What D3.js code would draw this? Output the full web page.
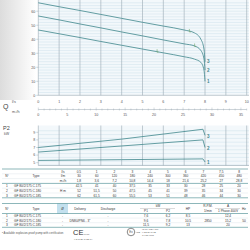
<!DOCTYPE html>
<html>
<head>
<meta charset="utf-8">
<script src="https://cdn.jsdelivr.net/npm/d3@7"></script>
<style>
body { margin: 0; background: #fff; }
svg { display: block; font-family: "Liberation Sans", Arial, sans-serif; }
</style>
</head>
<body>
<svg id="chart" width="250" height="250"></svg>
<script>
// curves (Q in l/s)
const curveQ = [0, 1, 2, 3, 4, 5, 6, 7, 7.5, 7.8, 7.95, 8.0];
const headCurve1 = [46.6, 43.9, 41.2, 38.4, 35.7, 33, 30.3, 27.5, 25.8, 23.5, 18, 10];
const headCurve2 = [56.6, 53.8, 50.9, 48.1, 45.2, 42.4, 39.5, 36.7, 35.2, 32, 26, 18];
const headCurve3 = [66, 63.2, 60.5, 57.7, 54.9, 52.1, 49.4, 46.6, 44.5, 40, 33, 24];
const markQ = [5.7, 7.5, 7.25];

const powerQ = [0, 4, 7.9, 8.0];
const powerCurve1 = [5.3, 5.4, 5.5, 5.1];
const powerCurve2 = [6.4, 7.2, 8.0, 7.0];
const powerCurve3 = [7.0, 8.1, 9.4, 8.6];

const headTicks = [0, 10, 20, 30, 40, 50, 60];
const lsTicks = [0, 1, 2, 3, 4, 5, 6, 7, 8, 9, 10];
const m3hTicks = [0, 5, 10, 15, 20, 25, 30, 35];
const powerTicks = [5, 6, 7, 8, 9];

// performance table
const flowLs = ["0,5", "1", "2", "3", "4", "5", "6", "7", "7,5", "8"];
const flowLm = ["30", "60", "120", "180", "240", "300", "360", "420", "450", "480"];
const flowM3h = ["1,8", "3,6", "7,2", "10,8", "14,4", "18", "21,6", "25,2", "27", "28,8"];
const models = ["GF 80/2/175 C.175", "GF 80/2/175 C.180", "GF 80/2/175 C.185"];
const headRow1 = ["42,5", "41", "40", "37,5", "35", "33", "30", "28", "25", "20"];
const headRow2 = ["52", "51,5", "50", "47,5", "45", "41", "39", "35", "34", "30"];
const headRow3 = ["62", "61,5", "60", "55,5", "53", "51", "48", "46", "44", "30"];

// motor table
const p1 = ["7,6", "9,6", "11,5"];
const p2 = ["6,2", "7,8", "9,2"];
const hp = ["8,5", "10,5", "13"];
const amps = ["12,4", "15,2", "20"];

const teal = "#3f868c", grid = "#9aa9b3", minor = "#cde1eb", txt = "#555";

let svg = d3.select("#chart");

let defs = svg.append("defs");
let grad = defs.append("linearGradient").attr("id", "side");
grad.append("stop").attr("offset", "0%").attr("stop-color", "#dcdcdc");
grad.append("stop").attr("offset", "100%").attr("stop-color", "#ffffff");
svg.append("rect").attr("x", 0).attr("y", 0).attr("width", 36).attr("height", 100)
    .attr("fill", "url(#side)");

let x = d3.scaleLinear().domain([0, 10]).range([38.3, 246.7]),
    xm3 = d3.scaleLinear().domain([0, 36]).range([38.3, 246.7]),
    y = d3.scaleLinear().domain([0, 68]).range([95.3, 0]),
    yp = d3.scaleLinear().domain([5, 9]).range([162.7, 132.3]);

let right = 249;

// ---------- head chart
let hg = svg.append("g");
hg.append("rect").attr("x", x(0)).attr("y", 0).attr("width", right - x(0)).attr("height", y(0))
    .attr("fill", "#f3f8fb");
hg.selectAll("line.hm").data(d3.range(2, 68, 2)).enter().append("line")
    .attr("x1", x(0)).attr("x2", right)
    .attr("y1", d => y(d)).attr("y2", d => y(d))
    .attr("stroke", minor).attr("stroke-width", 0.5);
hg.selectAll("line.v").data(lsTicks).enter().append("line")
    .attr("x1", d => x(d)).attr("x2", d => x(d))
    .attr("y1", 0).attr("y2", y(0))
    .attr("stroke", grid).attr("stroke-width", 0.6);
hg.append("line").attr("x1", x(0)).attr("x2", right).attr("y1", y(0)).attr("y2", y(0))
    .attr("stroke", grid).attr("stroke-width", 0.6);

hg.selectAll("line.yt").data(headTicks).enter().append("line")
    .attr("x1", x(0) - 2).attr("x2", x(0))
    .attr("y1", d => y(d)).attr("y2", d => y(d))
    .attr("stroke", grid).attr("stroke-width", 0.5);
hg.selectAll("text.yt").data(headTicks).enter().append("text")
    .attr("x", x(0) - 3).attr("y", d => y(d) + 1.3)
    .attr("text-anchor", "end").attr("font-size", 3.6).attr("fill", txt)
    .text(d => d);

let hline = d3.line().curve(d3.curveMonotoneX)
    .x((d, i) => x(curveQ[i])).y(d => y(d));
let heads = [headCurve1, headCurve2, headCurve3];
hg.selectAll("path.c").data(heads).enter().append("path")
    .attr("d", hline).attr("fill", "none").attr("stroke", teal).attr("stroke-width", 0.8);

// best efficiency ticks
function headAt(c, q) {
    let i = d3.bisectRight(curveQ, q) - 1;
    let t = (q - curveQ[i]) / (curveQ[i + 1] - curveQ[i]);
    return c[i] + t * (c[i + 1] - c[i]);
}
hg.selectAll("path.mk").data(heads).enter().append("path")
    .attr("d", (c, i) => {
        let px = x(markQ[i]), py = y(headAt(c, markQ[i]));
        return "M" + px + "," + (py - 2.5) + "V" + (py + 0.5) + "H" + (px + 1.5);
    })
    .attr("fill", "none").attr("stroke", "#6fa56a").attr("stroke-width", 0.6);

hg.selectAll("text.cl").data(heads).enter().append("text")
    .attr("x", 207).attr("y", d => y(d[d.length - 1]) + 1.5)
    .attr("font-size", 4.5).attr("font-weight", "bold").attr("fill", teal)
    .text((d, i) => i + 1);

// ---------- flow axes
svg.selectAll("text.ls").data(lsTicks).enter().append("text")
    .attr("x", d => x(d)).attr("y", 102.5).attr("text-anchor", "middle")
    .attr("font-size", 3.6).attr("fill", txt).text(d => d);
svg.append("text").attr("x", 12).attr("y", 102.5).attr("font-size", 3.8).attr("fill", txt).text("l/s");
svg.append("text").attr("x", 3).attr("y", 108.5).attr("font-size", 7).attr("fill", "#444").text("Q");
svg.append("text").attr("x", 12).attr("y", 113).attr("font-size", 3.8).attr("fill", txt).text("m³/h");

let m3g = svg.append("g");
m3g.append("line").attr("x1", xm3(0)).attr("x2", xm3(36)).attr("y1", 109.5).attr("y2", 109.5)
    .attr("stroke", grid).attr("stroke-width", 0.5);
m3g.selectAll("line.mt").data(d3.range(0, 37, 1)).enter().append("line")
    .attr("x1", d => xm3(d)).attr("x2", d => xm3(d))
    .attr("y1", d => d % 5 == 0 ? 107.5 : 108.5).attr("y2", 110.5)
    .attr("stroke", grid).attr("stroke-width", 0.4);
m3g.selectAll("text").data(m3hTicks).enter().append("text")
    .attr("x", d => xm3(d)).attr("y", 115.5).attr("text-anchor", "middle")
    .attr("font-size", 3.6).attr("fill", txt).text(d => d);

// ---------- power chart
let pTop = 125.5, pBot = 165.5;
let pg = svg.append("g");
svg.append("text").attr("x", 3).attr("y", 129.5).attr("font-size", 5.5).attr("fill", "#444").text("P2");
svg.append("text").attr("x", 4).attr("y", 135).attr("font-size", 3.6).attr("fill", txt).text("kW");
pg.append("rect").attr("x", x(0)).attr("y", pTop).attr("width", right - x(0)).attr("height", pBot - pTop)
    .attr("fill", "#f3f8fb");
pg.selectAll("line.hm").data(d3.range(4.7, 9.7, 0.5)).enter().append("line")
    .attr("x1", x(0)).attr("x2", right)
    .attr("y1", d => yp(d)).attr("y2", d => yp(d))
    .attr("stroke", minor).attr("stroke-width", 0.5);
pg.selectAll("line.v").data(lsTicks).enter().append("line")
    .attr("x1", d => x(d)).attr("x2", d => x(d))
    .attr("y1", pTop).attr("y2", pBot)
    .attr("stroke", grid).attr("stroke-width", 0.6);
pg.append("line").attr("x1", x(0)).attr("x2", right).attr("y1", pBot).attr("y2", pBot)
    .attr("stroke", grid).attr("stroke-width", 0.6);
pg.selectAll("line.yt").data(powerTicks).enter().append("line")
    .attr("x1", x(0) - 2).attr("x2", x(0))
    .attr("y1", d => yp(d)).attr("y2", d => yp(d))
    .attr("stroke", grid).attr("stroke-width", 0.5);
pg.selectAll("text.yt").data(powerTicks).enter().append("text")
    .attr("x", x(0) - 3).attr("y", d => yp(d) + 1.3)
    .attr("text-anchor", "end").attr("font-size", 3.6).attr("fill", txt).text(d => d);

let pline = d3.line().x((d, i) => x(powerQ[i])).y(d => yp(d));
let powers = [powerCurve1, powerCurve2, powerCurve3];
pg.selectAll("path.c").data(powers).enter().append("path")
    .attr("d", pline).attr("fill", "none").attr("stroke", teal).attr("stroke-width", 0.8);
pg.selectAll("text.cl").data(powers).enter().append("text")
    .attr("x", 207).attr("y", d => yp(d[d.length - 1]) + 2.5)
    .attr("font-size", 4.5).attr("font-weight", "bold").attr("fill", teal)
    .text((d, i) => i + 1);

// ---------- performance table
let t1 = svg.append("g").attr("font-size", 3.2).attr("fill", "#333");
let col = d3.scaleBand().domain(d3.range(10)).range([70, 248]);
let rowH = 4.8, t1Top = 169;
let t1Rows = [flowLs, flowLm, flowM3h, headRow1, headRow2, headRow3];
let units = ["l/s", "l/m", "m³/h"];

t1.selectAll("line.r").data(d3.range(7)).enter().append("line")
    .attr("x1", 2).attr("x2", 248)
    .attr("y1", d => t1Top + d * rowH).attr("y2", d => t1Top + d * rowH)
    .attr("stroke", d => (d == 0 || d == 3 || d == 6) ? teal : "#c9d3d8")
    .attr("stroke-width", d => (d == 0 || d == 3 || d == 6) ? 0.6 : 0.3);

t1.selectAll("g.row").data(t1Rows).enter().append("g")
    .attr("transform", (d, i) => "translate(0," + (t1Top + i * rowH + rowH / 2 + 1.1) + ")")
    .selectAll("text").data(d => d).enter().append("text")
    .attr("x", (d, j) => col(j) + col.bandwidth() / 2).attr("text-anchor", "middle")
    .text(d => d);
t1.selectAll("text.u").data(units).enter().append("text")
    .attr("x", 63).attr("y", (d, i) => t1Top + i * rowH + rowH / 2 + 1.1)
    .attr("text-anchor", "middle").text(d => d);
t1.append("text").attr("x", 63).attr("y", t1Top + 4.5 * rowH + 1.1).attr("text-anchor", "middle").text("H m");
t1.append("text").attr("x", 7).attr("y", t1Top + 1.5 * rowH + 1.1).attr("text-anchor", "middle").text("N°");
t1.append("text").attr("x", 36).attr("y", t1Top + 1.5 * rowH + 1.1).attr("text-anchor", "middle").text("Type");
t1.selectAll("text.n").data(models).enter().append("text")
    .attr("x", 7).attr("y", (d, i) => t1Top + (i + 3.5) * rowH + 1.1)
    .attr("text-anchor", "middle").text((d, i) => i + 1);
t1.selectAll("text.m").data(models).enter().append("text")
    .attr("x", 14).attr("y", (d, i) => t1Top + (i + 3.5) * rowH + 1.1)
    .text(d => d);

// ---------- motor table
let t2 = svg.append("g").attr("font-size", 3.2).attr("fill", "#333");
let t2Top = 203.5, hdrH = 10, r2H = 4.6;
t2.append("rect").attr("x", 57).attr("y", t2Top).attr("width", 11).attr("height", hdrH)
    .attr("fill", "#c3e0ee");
[t2Top, t2Top + hdrH, t2Top + hdrH + r2H, t2Top + hdrH + 2 * r2H, t2Top + hdrH + 3 * r2H].forEach((ly, i) => {
    t2.append("line").attr("x1", 2).attr("x2", 248).attr("y1", ly).attr("y2", ly)
        .attr("stroke", (i < 2 || i == 4) ? teal : "#c9d3d8").attr("stroke-width", (i < 2 || i == 4) ? 0.6 : 0.3);
});
let midH = t2Top + hdrH / 2 + 1.1;
let headers = [[7, "N°"], [36, "Type"], [62.5, "Ø"], [80, "Delivery"], [108, "Discharge"], [188, "HP"], [248 - 4, "Hz"]];
t2.selectAll("text.h").data(headers).enter().append("text")
    .attr("x", d => d[0]).attr("y", midH).attr("text-anchor", "middle").text(d => d[1]);
let sub = [[158, "kW", 0], [146, "P1", 1], [168, "P2", 1], [208, "R.P.M.", 0], [208, "1/min", 1], [228, "A", 0], [228, "1 Phase 400V", 1]];
t2.selectAll("text.s").data(sub).enter().append("text")
    .attr("x", d => d[0]).attr("y", d => t2Top + (d[2] ? 8 : 3.6)).attr("text-anchor", "middle").text(d => d[1]);
t2.append("line").attr("x1", 140).attr("x2", 175).attr("y1", t2Top + 5).attr("y2", t2Top + 5)
    .attr("stroke", "#888").attr("stroke-width", 0.3);
t2.append("line").attr("x1", 215).attr("x2", 240).attr("y1", t2Top + 5).attr("y2", t2Top + 5)
    .attr("stroke", "#888").attr("stroke-width", 0.3);

let rowY = i => t2Top + hdrH + (i + 0.5) * r2H + 1.1;
let motorCols = [[7, models.map((d, i) => i + 1)], [62.5, ["-", "-", "-"]], [108, ["-", "-", "-"]],
    [146, p1], [168, p2], [188, hp], [228, amps]];
motorCols.forEach(c => {
    t2.selectAll(null).data(c[1]).enter().append("text")
        .attr("x", c[0]).attr("y", (d, i) => rowY(i)).attr("text-anchor", "middle").text(d => d);
});
t2.selectAll("text.m").data(models).enter().append("text")
    .attr("x", 14).attr("y", (d, i) => rowY(i)).text(d => d);
t2.append("text").attr("x", 80).attr("y", rowY(1)).attr("text-anchor", "middle").text("DN80/PN6 - 3\"");
t2.append("text").attr("x", 208).attr("y", rowY(1)).attr("text-anchor", "middle").text("2850");
t2.append("text").attr("x", 244).attr("y", rowY(1)).attr("text-anchor", "middle").text("50");

// ---------- footnote and marks
let fg = svg.append("g").attr("fill", "#555");
fg.append("text").attr("x", 2).attr("y", 234).attr("font-size", 2.8)
    .text("• Available explosion-proof pump with certification");
fg.append("text").attr("x", 73).attr("y", 235).attr("font-size", 7.5).attr("fill", "#333").text("CE");
fg.append("text").attr("x", 84).attr("y", 235).attr("font-size", 2.4).text("0477");
fg.append("text").attr("x", 74).attr("y", 239.5).attr("font-size", 2.4).text("II 2 G Ex d IIB T4");
fg.append("path").attr("d", d3.symbol(d3.symbolCircle, 45)()).attr("transform", "translate(131,232)")
    .attr("fill", "none").attr("stroke", "#555").attr("stroke-width", 0.7);
fg.append("text").attr("x", 131).attr("y", 233).attr("font-size", 3).attr("text-anchor", "middle").text("Ex");
fg.append("text").attr("x", 136).attr("y", 233).attr("font-size", 2.4).text("ICE");
["IN 10 ATEX 100", "II 2G Ex d IIB", "T4 Gb IP68"].forEach((s, i) => {
    fg.append("text").attr("x", 142).attr("y", 230 + i * 2.8).attr("font-size", 2.3).text(s);
});
</script>
</body>
</html>
